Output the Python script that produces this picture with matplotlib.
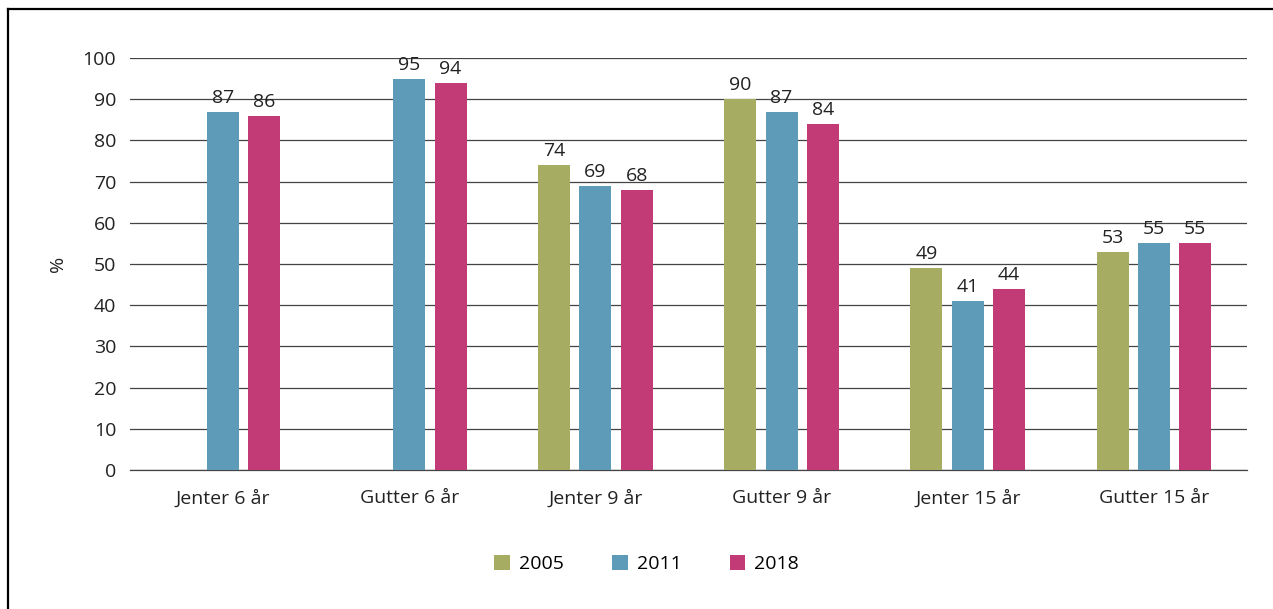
import numpy as np
import matplotlib
matplotlib.use("Agg")
import matplotlib.pyplot as plt
from matplotlib.lines import Line2D

plt.rcParams['font.family'] = ['Open Sans', 'DejaVu Sans']

groups = ['Jenter 6 år', 'Gutter 6 år', 'Jenter 9 år', 'Gutter 9 år', 'Jenter 15 år', 'Gutter 15 år']
years = ['2005', '2011', '2018']
v2005 = [np.nan, np.nan, 74, 90, 49, 53]
v2011 = [87, 95, 69, 87, 41, 55]
v2018 = [86, 94, 68, 84, 44, 55]
colors = ['#a6ad62', '#5e9bb8', '#c23b77']

fs = 14
fig = plt.figure(figsize=(12.73, 6.09), dpi=100)
ax = fig.add_axes([0.1021, 0.2282, 0.8775, 0.6766])

x = np.arange(len(groups)) + 0.5
width = 0.172
pitch = 0.222
for i, (vals, c, yr) in enumerate(zip([v2005, v2011, v2018], colors, years)):
    pos = x + (i - 1) * pitch
    ax.bar(pos, vals, width, color=c, label=yr, zorder=3)
    for p, v in zip(pos, vals):
        if not np.isnan(v):
            ax.text(p, v + 1.2, f'{v:g}', ha='center', va='bottom', fontsize=fs, color='#222222')

ax.set_xlim(0, len(groups))
ax.set_ylim(0, 100)
ax.set_yticks(range(0, 101, 10))
ax.set_xticks(x)
ax.set_xticklabels(groups)
ax.tick_params(axis='both', length=0, labelsize=fs, colors='#222222')
ax.tick_params(axis='y', pad=10)
ax.tick_params(axis='x', pad=14)
ax.yaxis.grid(True, color='#444444', linewidth=0.9, zorder=0)
for s in ['top', 'right', 'left']:
    ax.spines[s].set_visible(False)
ax.spines['bottom'].set_color('#444444')
ax.spines['bottom'].set_linewidth(0.9)
ax.set_ylabel('%', fontsize=fs, color='#222222', labelpad=11)

handles, labels = ax.get_legend_handles_labels()
fig.legend(handles, labels, loc='center', bbox_to_anchor=(0.508, 1 - 564/609), ncol=3,
           frameon=False, fontsize=fs, handlelength=0.8, handleheight=0.8,
           columnspacing=2.5, handletextpad=0.45)

# outer frame (left and top edges visible)
fig.add_artist(Line2D([8/1273, 8/1273], [0, 1 - 9/609], transform=fig.transFigure, color='black', lw=1.6))
fig.add_artist(Line2D([8/1273, 1], [1 - 9/609, 1 - 9/609], transform=fig.transFigure, color='black', lw=1.6))

fig.savefig('out.png', dpi=100)
